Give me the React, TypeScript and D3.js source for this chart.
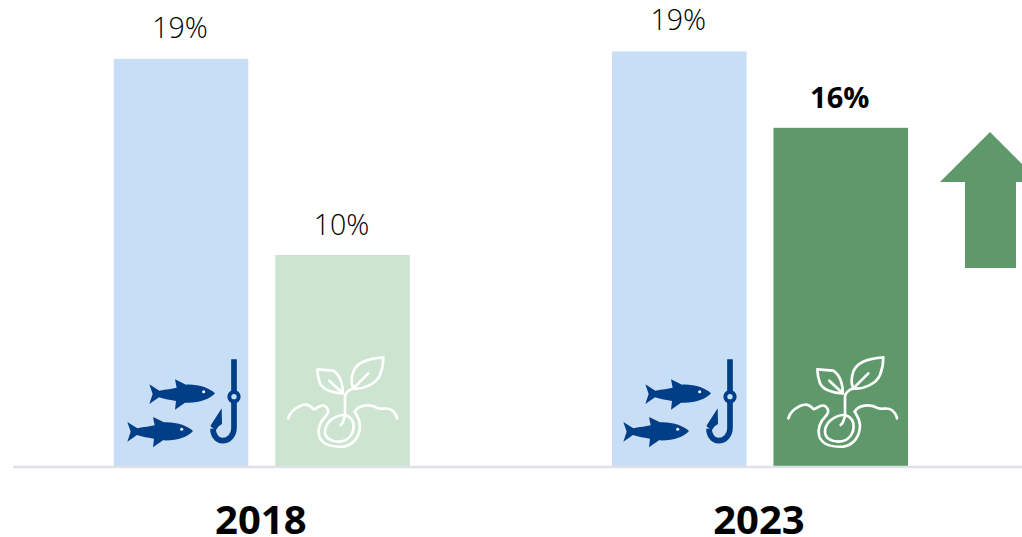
import React from "react";
import * as d3 from "d3";

const years = ["2018", "2023"];
const series = ["fish", "plant"];
const fishValues = [19.25, 19.6];
const plantValues = [10, 16];
const fishLabels = ["19%", "19%"];
const plantLabels = ["10%", "16%"];

const width = 1022;
const height = 537;
const baseline = 467;

const BLUE = "#c8ddf6";
const PALE_GREEN = "#cde4d0";
const GREEN = "#5f996b";
const NAVY = "#003f87";
const FONT = "'Open Sans', sans-serif";

const xYear = d3.scalePoint<string>().domain(years).range([260.8, 759]);
const xSeries = d3.scaleBand<string>().domain(series).range([-147, 149]).paddingInner(0.167);
const y = d3.scaleLinear().domain([0, 20]).range([baseline, baseline - 424]);

const FISH =
  "M118,133 L148,152 C170,148 185,146 200,143 L195,118 L228,134 C265,132 300,145 315,160 C300,178 265,190 225,188 L195,209 L198,183 C175,180 160,176 147,172 L118,192 L128,162 Z";

function FishIcon({ dx }: { dx: number }) {
  return (
    <g transform={`translate(${dx},340) scale(${1 / 3})`}>
      {[[0, 0], [-66, 113]].map(([fx, fy], i) => (
        <g key={i} transform={`translate(${fx},${fy})`}>
          <path d={FISH} fill={NAVY} />
          <circle cx={281} cy={155} r={4.5} fill="#fff" />
        </g>
      ))}
      <path
        d="M372,58 V262 C372,288 355,302 338,302 C320,302 309,285 309,266"
        fill="none"
        stroke={NAVY}
        strokeWidth={17}
      />
      <circle cx={372} cy={170} r={14} fill={BLUE} stroke={NAVY} strokeWidth={12} />
      <path d="M335,205 L301,258 L317,272 C322,262 328,256 336,252 Z" fill={NAVY} />
    </g>
  );
}

function SproutIcon({ dx }: { dx: number }) {
  return (
    <g
      transform={`translate(${dx},340) scale(${1 / 3})`}
      fill="none"
      stroke="#fff"
      strokeWidth={8}
      strokeLinecap="round"
      strokeLinejoin="round"
    >
      <path d="M340,52 C300,55 260,65 250,95 C243,115 245,135 250,145 C280,150 320,130 330,105 C338,85 340,70 340,52 Z" />
      <path d="M250,145 L295,100" />
      <path d="M142,88 L190,92 C210,105 220,135 218,160 C190,160 160,150 150,130 C145,115 142,100 142,88 Z" />
      <path d="M178,122 L218,160" />
      <path d="M225,225 V170 C225,160 238,150 250,145" />
      <path d="M218,225 C190,228 165,250 165,275 C165,295 185,305 205,305 C235,305 255,280 250,250 C248,238 240,230 225,225 C222,238 222,248 212,255" />
      <path d="M55,235 C60,215 75,205 90,198 C105,190 120,195 130,207 C140,210 150,190 165,198 C175,205 178,215 170,225 C150,245 140,265 148,290 C158,315 190,322 220,320 C250,315 270,290 270,255 C268,235 260,225 254,215" />
      <path d="M254,215 C265,195 300,190 325,205 C340,210 350,200 365,210 C375,218 380,225 381,235" />
    </g>
  );
}

export default function App() {
  const bw = xSeries.bandwidth();
  return (
    <svg
      width={width}
      height={height}
      viewBox={`0 0 ${width} ${height}`}
      style={{ position: "absolute", left: 0, top: 0, background: "#fff" }}
      fontFamily={FONT}
    >
      {years.map((year, i) => {
        const cx = xYear(year)!;
        const fishX = cx + xSeries("fish")!;
        const plantX = cx + xSeries("plant")!;
        const emphasised = i === 1;
        return (
          <g key={year}>
            <rect x={fishX} y={y(fishValues[i])} width={bw} height={baseline - y(fishValues[i])} fill={BLUE} />
            <rect
              x={plantX}
              y={y(plantValues[i])}
              width={bw}
              height={baseline - y(plantValues[i])}
              fill={emphasised ? GREEN : PALE_GREEN}
            />
            <text
              x={fishX + bw / 2 - 1}
              y={y(fishValues[i]) - 21}
              textAnchor="middle"
              fontSize={28.5}
              fontWeight={300}
              fill="#000"
            >
              {fishLabels[i]}
            </text>
            <text
              x={plantX + bw / 2 - 1}
              y={y(plantValues[i]) - 20}
              textAnchor="middle"
              fontSize={emphasised ? 29 : 28.5}
              fontWeight={emphasised ? 700 : 300}
              fill="#000"
            >
              {plantLabels[i]}
            </text>
            <text x={cx} y={533.5} textAnchor="middle" fontSize={40} fontWeight={700} fill="#000">
              {year}
            </text>
            <FishIcon dx={emphasised ? 606 : 110} />
            <SproutIcon dx={emphasised ? 770 : 270} />
          </g>
        );
      })}
      <line x1={13} x2={width} y1={baseline} y2={baseline} stroke="#e0e1e6" strokeWidth={2.5} />
      <polygon points="990,132 1040,182 1016,182 1016,268 965,268 965,182 940,182" fill={GREEN} />
    </svg>
  );
}
